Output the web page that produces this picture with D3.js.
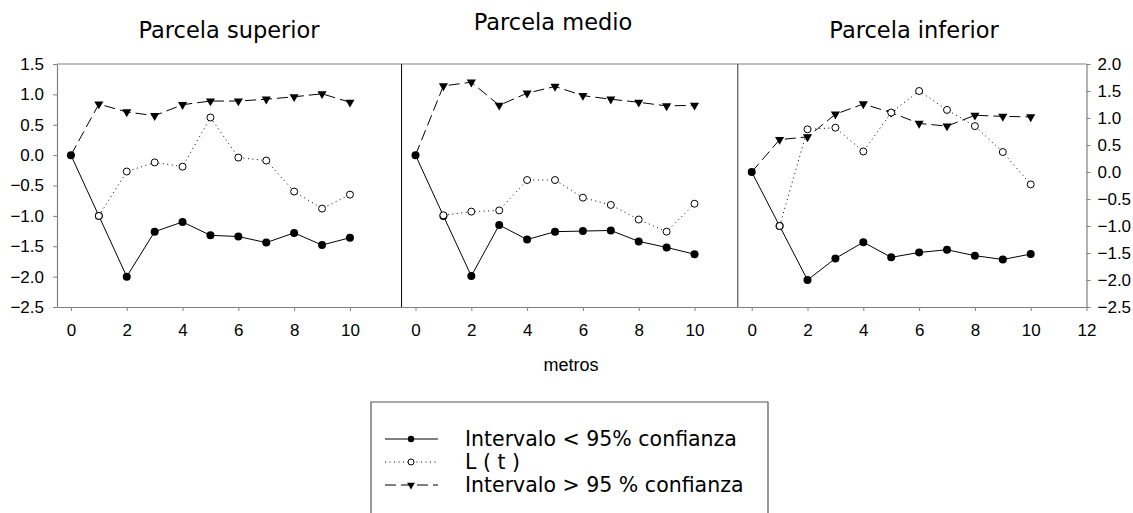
<!DOCTYPE html>
<html>
<head>
<meta charset="utf-8">
<script src="https://cdn.jsdelivr.net/npm/d3@7"></script>
<style>
  body { margin: 0; background: #fff; }
  svg { display: block; }
</style>
</head>
<body>
<div id="chart"></div>
<script>
// distances (metros)
const distances = [0, 1, 2, 3, 4, 5, 6, 7, 8, 9, 10];

// panel titles
const panelTitles = ["Parcela superior", "Parcela medio", "Parcela inferior"];

// lower confidence envelope per panel
const lowerSuperior = [0, -1.0, -2.0, -1.26, -1.10, -1.32, -1.34, -1.44, -1.28, -1.48, -1.36];
const lowerMedio    = [0, -1.0, -1.99, -1.15, -1.39, -1.26, -1.25, -1.24, -1.42, -1.52, -1.63];
const lowerInferior = [0, -1.0, -2.0, -1.60, -1.30, -1.58, -1.49, -1.44, -1.55, -1.62, -1.52];

// L(t) per panel (starts at 1 m)
const ltSuperior = [null, -1.0, -0.27, -0.12, -0.19, 0.62, -0.04, -0.09, -0.60, -0.88, -0.65];
const ltMedio    = [null, -0.99, -0.93, -0.91, -0.41, -0.41, -0.70, -0.82, -1.06, -1.26, -0.80];
const ltInferior = [null, -1.0, 0.79, 0.82, 0.38, 1.10, 1.50, 1.15, 0.85, 0.37, -0.23];

// upper confidence envelope per panel
const upperSuperior = [0, 0.84, 0.71, 0.65, 0.83, 0.89, 0.89, 0.92, 0.96, 1.01, 0.87];
const upperMedio    = [0, 1.14, 1.20, 0.82, 1.02, 1.13, 0.98, 0.92, 0.87, 0.81, 0.82];
const upperInferior = [0, 0.60, 0.65, 1.07, 1.26, 1.10, 0.90, 0.85, 1.05, 1.03, 1.02];

// x tick labels per panel
const xTicksShort = [0, 2, 4, 6, 8, 10];
const xTicksLong = [0, 2, 4, 6, 8, 10, 12];
// y tick labels
const yTicksLeft = [-2.5, -2.0, -1.5, -1.0, -0.5, 0.0, 0.5, 1.0, 1.5];
const yTicksRight = [-2.5, -2.0, -1.5, -1.0, -0.5, 0.0, 0.5, 1.0, 1.5, 2.0];

const legendLabels = ["Intervalo < 95% confianza", "L ( t )", "Intervalo > 95 % confianza"];

const width = 1133, height = 513;
const plotTop = 64, plotBottom = 307;
const unit = 27.9;
const axisGray = "#808080";

const svg = d3.select("#chart").append("svg")
    .attr("width", width)
    .attr("height", height);

const yLeft = d3.scaleLinear().domain([-2.5, 1.5]).range([plotBottom, plotTop]);
const yRight = d3.scaleLinear().domain([-2.5, 2.0]).range([plotBottom, plotTop]);

// panel layout
const panels = [
    {title: panelTitles[0], domain: [-0.5, 11.85], ticks: xTicksShort, y: yLeft, titleX: 229, titleY: 38,
     lower: lowerSuperior, lt: ltSuperior, upper: upperSuperior},
    {title: panelTitles[1], domain: [-0.5, 11.55], ticks: xTicksShort, y: yLeft, titleX: 553, titleY: 30,
     lower: lowerMedio, lt: ltMedio, upper: upperMedio},
    {title: panelTitles[2], domain: [-0.5, 12], ticks: xTicksLong, y: yRight, titleX: 914, titleY: 38,
     lower: lowerInferior, lt: ltInferior, upper: upperInferior}
];
let cursor = 57;
panels.forEach(p => {
    p.left = cursor;
    p.right = cursor + (p.domain[1] - p.domain[0]) * unit;
    p.x = d3.scaleLinear().domain(p.domain).range([p.left, p.right]);
    cursor = p.right;
});

const tickFont = "'Liberation Sans', Arial, sans-serif";
const textFont = "'DejaVu Sans', Verdana, sans-serif";

// top frame line
svg.append("line")
    .attr("x1", 57).attr("x2", panels[2].right)
    .attr("y1", plotTop).attr("y2", plotTop)
    .attr("stroke", axisGray).attr("stroke-width", 1.2);

// left axis
const gLeft = svg.append("g")
    .attr("transform", `translate(57,0)`)
    .call(d3.axisLeft(yLeft).tickValues(yTicksLeft).tickFormat(d3.format(".1f")).tickSize(4).tickSizeOuter(0));
// right axis
const gRight = svg.append("g")
    .attr("transform", `translate(${panels[2].right},0)`)
    .call(d3.axisRight(yRight).tickValues(yTicksRight).tickFormat(d3.format(".1f")).tickSize(4).tickSizeOuter(0));

[gLeft, gRight].forEach(g => {
    g.select(".domain").attr("stroke", axisGray).attr("stroke-width", 1.2);
    g.selectAll(".tick line").attr("stroke", axisGray);
    g.selectAll(".tick text")
        .attr("font-family", tickFont).attr("font-size", 17).attr("fill", "#000");
});
gLeft.selectAll(".tick text").attr("x", -13);
gRight.selectAll(".tick text").attr("x", 11);

// panel separators
svg.append("line")
    .attr("x1", panels[1].left).attr("x2", panels[1].left)
    .attr("y1", plotTop).attr("y2", plotBottom)
    .attr("stroke", "#000").attr("stroke-width", 1);
svg.append("line")
    .attr("x1", panels[2].left).attr("x2", panels[2].left)
    .attr("y1", plotTop).attr("y2", plotBottom)
    .attr("stroke", "#555").attr("stroke-width", 1.2);

const tri = d3.symbol().type(d3.symbolTriangle).size(36);

panels.forEach(p => {
    // x axis
    const gx = svg.append("g")
        .attr("transform", `translate(0,${plotBottom})`)
        .call(d3.axisBottom(p.x).tickValues(p.ticks).tickSize(4).tickSizeOuter(0));
    gx.select(".domain").attr("stroke", axisGray).attr("stroke-width", 1.2);
    gx.selectAll(".tick line").attr("stroke", axisGray);
    gx.selectAll(".tick text")
        .attr("font-family", tickFont).attr("font-size", 17).attr("fill", "#000")
        .attr("y", 17);

    // title
    svg.append("text")
        .attr("x", p.titleX)
        .attr("y", p.titleY)
        .attr("text-anchor", "middle")
        .attr("font-family", textFont)
        .attr("font-size", 22.5)
        .text(p.title);

    const pts = vals => distances.map((d, i) => ({x: d, y: vals[i]})).filter(d => d.y !== null);
    const line = d3.line().x(d => p.x(d.x)).y(d => p.y(d.y));

    // upper envelope: long dashes + down triangles
    svg.append("path").datum(pts(p.upper))
        .attr("d", line).attr("fill", "none").attr("stroke", "#000")
        .attr("stroke-width", 1).attr("stroke-dasharray", "11,5");
    svg.selectAll(null).data(pts(p.upper).slice(1)).enter().append("path")
        .attr("d", tri)
        .attr("transform", d => `translate(${p.x(d.x)},${p.y(d.y)}) rotate(180)`)
        .attr("fill", "#000");

    // lower envelope: solid + filled circles
    svg.append("path").datum(pts(p.lower))
        .attr("d", line).attr("fill", "none").attr("stroke", "#000").attr("stroke-width", 1);
    svg.selectAll(null).data(pts(p.lower)).enter().append("circle")
        .attr("cx", d => p.x(d.x)).attr("cy", d => p.y(d.y)).attr("r", 4)
        .attr("fill", "#000");

    // L(t): dotted + hollow circles
    svg.append("path").datum(pts(p.lt))
        .attr("d", line).attr("fill", "none").attr("stroke", "#000")
        .attr("stroke-width", 1).attr("stroke-dasharray", "1,3.5");
    svg.selectAll(null).data(pts(p.lt)).enter().append("circle")
        .attr("cx", d => p.x(d.x)).attr("cy", d => p.y(d.y)).attr("r", 3.5)
        .attr("fill", "#fff").attr("stroke", "#000").attr("stroke-width", 1);
});

// x axis title
svg.append("text")
    .attr("x", 571).attr("y", 371)
    .attr("text-anchor", "middle")
    .attr("font-family", tickFont).attr("font-size", 18)
    .text("metros");

// legend box (open at the bottom)
const lg = svg.append("g");
lg.append("path")
    .attr("d", "M371,513 V402 H768 V513")
    .attr("fill", "none").attr("stroke", "#555").attr("stroke-width", 1.2);

const legendStyles = [
    {dash: null, marker: "dot"},
    {dash: "1,3.5", marker: "ring"},
    {dash: "11,5", marker: "tri"}
];
const rowY = [439, 462, 485];
legendLabels.forEach((label, i) => {
    const s = legendStyles[i];
    const y = rowY[i];
    lg.append("line")
        .attr("x1", 385).attr("x2", 438).attr("y1", y).attr("y2", y)
        .attr("stroke", "#000").attr("stroke-width", 1)
        .attr("stroke-dasharray", s.dash);
    if (s.marker === "dot") {
        lg.append("circle").attr("cx", 411).attr("cy", y).attr("r", 3.2).attr("fill", "#000");
    } else if (s.marker === "ring") {
        lg.append("circle").attr("cx", 411).attr("cy", y).attr("r", 3)
            .attr("fill", "#fff").attr("stroke", "#000");
    } else {
        lg.append("path").attr("d", d3.symbol().type(d3.symbolTriangle).size(26))
            .attr("transform", `translate(411,${y}) rotate(180)`).attr("fill", "#000");
    }
    lg.append("text")
        .attr("x", 465).attr("y", y + 7)
        .attr("font-family", textFont).attr("font-size", 20.5)
        .text(label);
});
</script>
</body>
</html>
